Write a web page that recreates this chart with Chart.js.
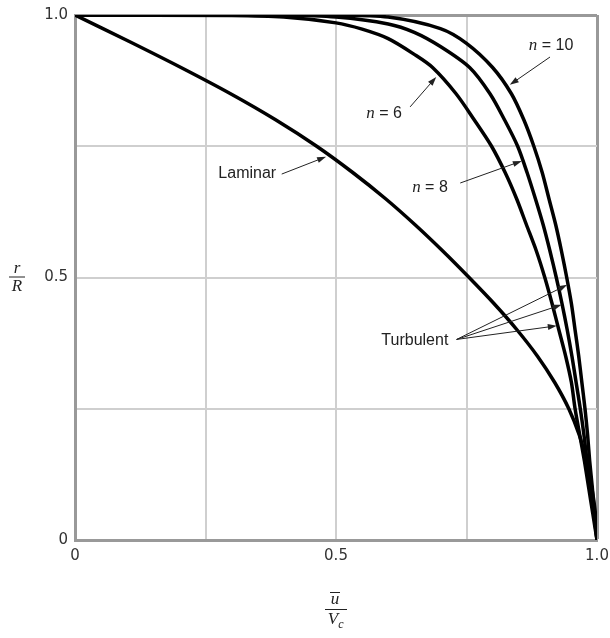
<!DOCTYPE html>
<html>
<head>
<meta charset="utf-8">
<script src="https://cdn.jsdelivr.net/npm/chart.js@4/dist/chart.umd.min.js"></script>
<style>
    html, body { margin: 0; padding: 0; background: #fff; }
    canvas { display: block; }
</style>
</head>
<body>
<canvas id="profileChart" width="610" height="638"></canvas>
<script>
// velocity profiles: u/Vc (x) against r/R (y)
const laminarU = [0, 0.103, 0.203, 0.298, 0.385, 0.463, 0.532, 0.595, 0.652, 0.705, 0.755, 0.803, 0.847, 0.886, 0.919, 0.946, 0.966, 0.980, 0.990, 0.997, 1.0]
const laminarR = [1.0, 0.95, 0.90, 0.85, 0.80, 0.75, 0.70, 0.65, 0.60, 0.55, 0.50, 0.45, 0.40, 0.35, 0.30, 0.25, 0.20, 0.15, 0.10, 0.05, 0]

const n6U = [0, 0.30, 0.40, 0.50, 0.55, 0.60, 0.65, 0.685, 0.73, 0.765, 0.798, 0.824, 0.846, 0.865, 0.884, 0.900, 0.914, 0.927, 0.940, 0.951, 0.958, 0.967, 0.976, 0.984, 0.992, 1.0]
const n6R = [1.0, 0.999, 0.996, 0.985, 0.973, 0.955, 0.925, 0.90, 0.85, 0.80, 0.75, 0.70, 0.65, 0.60, 0.55, 0.50, 0.45, 0.40, 0.35, 0.30, 0.25, 0.20, 0.15, 0.10, 0.05, 0]

const n8U = [0, 0.40, 0.50, 0.60, 0.65, 0.70, 0.756, 0.795, 0.823, 0.848, 0.866, 0.882, 0.897, 0.910, 0.922, 0.933, 0.943, 0.952, 0.960, 0.968, 0.975, 0.981, 0.988, 0.994, 1.0]
const n8R = [1.0, 0.9993, 0.996, 0.983, 0.967, 0.94, 0.90, 0.85, 0.80, 0.75, 0.70, 0.65, 0.60, 0.55, 0.50, 0.45, 0.40, 0.35, 0.30, 0.25, 0.20, 0.15, 0.10, 0.05, 0]

const n10U = [0, 0.50, 0.60, 0.70, 0.75, 0.80, 0.836, 0.860, 0.879, 0.895, 0.908, 0.921, 0.932, 0.942, 0.951, 0.958, 0.965, 0.971, 0.977, 0.982, 0.986, 0.991, 0.995, 1.0]
const n10R = [1.0, 0.9995, 0.996, 0.974, 0.946, 0.90, 0.85, 0.80, 0.75, 0.70, 0.65, 0.60, 0.55, 0.50, 0.45, 0.40, 0.35, 0.30, 0.25, 0.20, 0.15, 0.10, 0.05, 0]

const xTickLabels = ['0', '', '0.5', '', '1.0']
const yTickLabels = ['0', '', '0.5', '', '1.0']

const SANS = '16px "Liberation Sans", Arial, sans-serif'
const ITALIC = 'italic 17px "Liberation Serif", "Times New Roman", serif'

function toPoints(us, rs) {
    return us.map((u, i) => ({ x: u, y: rs[i] }))
}

function curve(label, us, rs) {
    return {
        label: label,
        data: toPoints(us, rs),
        showLine: true,
        borderColor: '#000',
        borderWidth: 3.5,
        pointRadius: 0,
        tension: 0.3,
        fill: false,
    }
}

// labels with arrows, placed in data units
const notes = [
    { parts: [['n', ITALIC], [' = 10', SANS]], at: [0.912, 0.941], from: [0.910, 0.920], to: [[0.833, 0.867]] },
    { parts: [['n', ITALIC], [' = 6', SANS]], at: [0.592, 0.813], from: [0.642, 0.825], to: [[0.692, 0.882]] },
    { parts: [['n', ITALIC], [' = 8', SANS]], at: [0.680, 0.672], from: [0.738, 0.680], to: [[0.856, 0.722]] },
    { parts: [['Laminar', SANS]], at: [0.330, 0.697], from: [0.396, 0.697], to: [[0.481, 0.730]] },
    {
        parts: [['Turbulent', SANS]],
        at: [0.651, 0.379],
        from: [0.731, 0.382],
        to: [[0.943, 0.486], [0.932, 0.448], [0.923, 0.408]],
    },
]

function drawParts(ctx, parts, cx, cy) {
    let total = 0
    parts.forEach(([text, font]) => {
        ctx.font = font
        total += ctx.measureText(text).width
    })
    let x = cx - total / 2
    parts.forEach(([text, font]) => {
        ctx.font = font
        ctx.fillText(text, x, cy)
        x += ctx.measureText(text).width
    })
}

function drawArrow(ctx, x1, y1, x2, y2) {
    const ang = Math.atan2(y2 - y1, x2 - x1)
    const len = 9
    const half = 3
    ctx.beginPath()
    ctx.moveTo(x1, y1)
    ctx.lineTo(x2 - Math.cos(ang) * len * 0.8, y2 - Math.sin(ang) * len * 0.8)
    ctx.stroke()
    ctx.beginPath()
    ctx.moveTo(x2, y2)
    ctx.lineTo(x2 - Math.cos(ang) * len - Math.sin(ang) * half, y2 - Math.sin(ang) * len + Math.cos(ang) * half)
    ctx.lineTo(x2 - Math.cos(ang) * len + Math.sin(ang) * half, y2 - Math.sin(ang) * len - Math.cos(ang) * half)
    ctx.closePath()
    ctx.fill()
}

const notesPlugin = {
    id: 'notes',
    afterDatasetsDraw(chart) {
        const ctx = chart.ctx
        const sx = chart.scales.x
        const sy = chart.scales.y
        ctx.save()
        ctx.fillStyle = '#222'
        ctx.strokeStyle = '#222'
        ctx.lineWidth = 1
        ctx.textBaseline = 'middle'
        notes.forEach((note) => {
            drawParts(ctx, note.parts, sx.getPixelForValue(note.at[0]), sy.getPixelForValue(note.at[1]))
            const fx = sx.getPixelForValue(note.from[0])
            const fy = sy.getPixelForValue(note.from[1])
            note.to.forEach(([tx, ty]) => {
                drawArrow(ctx, fx, fy, sx.getPixelForValue(tx), sy.getPixelForValue(ty))
            })
        })
        ctx.restore()
    },
}

// fraction-style axis titles: r/R and u-bar/Vc
const titlesPlugin = {
    id: 'titles',
    afterDraw(chart) {
        const ctx = chart.ctx
        const area = chart.chartArea
        ctx.save()
        ctx.fillStyle = '#222'
        ctx.strokeStyle = '#222'
        ctx.lineWidth = 1
        ctx.textAlign = 'center'
        ctx.textBaseline = 'middle'
        ctx.font = ITALIC

        // y title
        const yMid = (area.top + area.bottom) / 2
        ctx.fillText('r', 17, yMid - 9)
        ctx.beginPath()
        ctx.moveTo(9, yMid - 0.5)
        ctx.lineTo(25, yMid - 0.5)
        ctx.stroke()
        ctx.fillText('R', 17, yMid + 9)

        // x title
        const xMid = (area.left + area.right) / 2
        ctx.fillText('u', xMid - 1, 600)
        ctx.beginPath()
        ctx.moveTo(xMid - 6, 592.5)
        ctx.lineTo(xMid + 4, 592.5)
        ctx.stroke()
        ctx.beginPath()
        ctx.moveTo(xMid - 11, 609.5)
        ctx.lineTo(xMid + 11, 609.5)
        ctx.stroke()
        ctx.fillText('V', xMid - 3, 620)
        ctx.font = 'italic 12px "Liberation Serif", "Times New Roman", serif'
        ctx.fillText('c', xMid + 5, 625)
        ctx.restore()
    },
}

const tickFont = { family: '"DejaVu Sans", sans-serif', size: 15 }

function gridColor(context) {
    return context.tick && context.tick.value === 1 ? '#999' : '#cfcfcf'
}

function gridWidth(context) {
    return context.tick && context.tick.value === 1 ? 3 : 2
}

const ctx = document.getElementById('profileChart').getContext('2d')
new Chart(ctx, {
    type: 'scatter',
    data: {
        datasets: [
            curve('Laminar', laminarU, laminarR),
            curve('n = 6', n6U, n6R),
            curve('n = 8', n8U, n8R),
            curve('n = 10', n10U, n10R),
        ],
    },
    options: {
        responsive: false,
        animation: false,
        layout: { padding: { left: 0, right: 13, top: 15, bottom: 68 } },
        plugins: {
            legend: { display: false },
            tooltip: { enabled: false },
        },
        scales: {
            x: {
                type: 'linear',
                min: 0,
                max: 1,
                afterFit: (scale) => {
                    scale.height = 30
                    scale.paddingLeft = 0
                    scale.paddingRight = 0
                },
                ticks: {
                    stepSize: 0.25,
                    autoSkip: false,
                    maxRotation: 0,
                    padding: 7,
                    color: '#333',
                    font: tickFont,
                    callback: (value, index) => xTickLabels[index],
                },
                grid: { color: gridColor, lineWidth: gridWidth, drawTicks: false },
                border: { color: '#999', width: 3 },
            },
            y: {
                type: 'linear',
                min: 0,
                max: 1,
                afterFit: (scale) => {
                    scale.width = 75
                    scale.paddingTop = 0
                    scale.paddingBottom = 0
                },
                ticks: {
                    stepSize: 0.25,
                    autoSkip: false,
                    padding: 7,
                    color: '#333',
                    font: tickFont,
                    callback: (value, index) => yTickLabels[index],
                },
                grid: { color: gridColor, lineWidth: gridWidth, drawTicks: false },
                border: { color: '#999', width: 3 },
            },
        },
    },
    plugins: [notesPlugin, titlesPlugin],
})
</script>
</body>
</html>
